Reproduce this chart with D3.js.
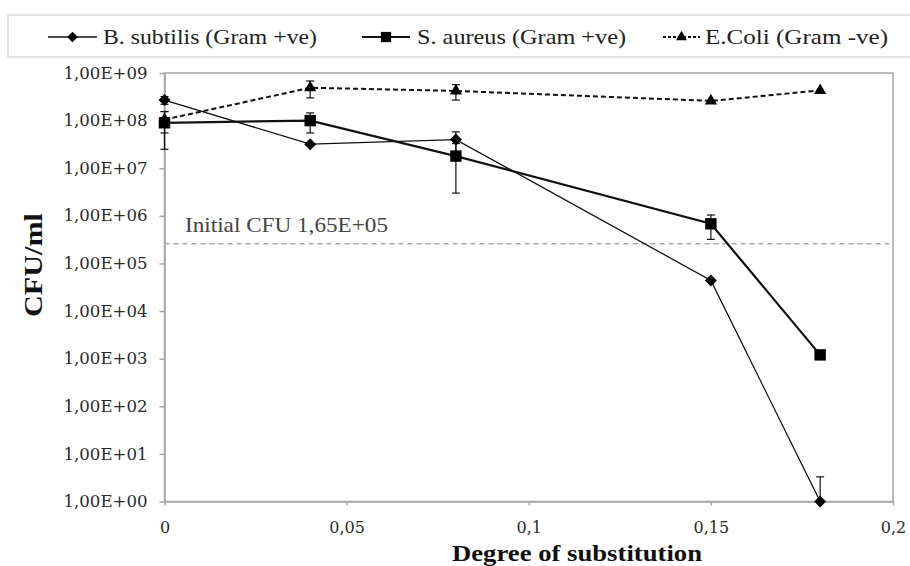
<!DOCTYPE html>
<html>
<head>
<meta charset="utf-8">
<script src="https://cdn.jsdelivr.net/npm/d3@7"></script>
<style>
html,body{margin:0;padding:0;background:#fff;}
svg{display:block;}
</style>
</head>
<body>
<svg id="chart" width="910" height="566"></svg>
<script>
// ---- data ----
const degree = [0, 0.04, 0.08, 0.15, 0.18];
const bSubtilis = [2.7e8, 3.2e7, 4.0e7, 4.4e4, 1];
const bSubtilisErr = [5e7, 0, 1.8e7, 0, 2.3];
const sAureus = [9.0e7, 1.0e8, 1.8e7, 6.8e5, 1.2e3];
const sAureusErr = [6.5e7, 4.5e7, 1.5e7, 3.6e5, 0];
const eColi = [1.05e8, 4.9e8, 4.2e8, 2.6e8, 4.3e8];
const eColiErr = [5e7, 1.9e8, 1.5e8, 0, 0];
const initialCFU = 2.6e5;
const initialLabel = "Initial CFU 1,65E+05";
const xTicks = [0, 0.05, 0.1, 0.15, 0.2];
const yTicks = [1, 10, 100, 1e3, 1e4, 1e5, 1e6, 1e7, 1e8, 1e9];
const seriesNames = ["B. subtilis (Gram +ve)", "S. aureus (Gram +ve)", "E.Coli (Gram -ve)"];

const svg = d3.select("#chart");
const x = d3.scaleLinear().domain([0, 0.2]).range([164.5, 893]);
const y = d3.scaleLog().domain([1, 1e9]).range([501.5, 73]);
const axisColor = "#a6a6a6";
const serif = "'DejaVu Serif', serif";
const serif2 = "'Liberation Serif', 'Times New Roman', serif";

// frame
svg.append("rect")
  .attr("x", x(0)).attr("y", y(1e9))
  .attr("width", x(0.2) - x(0)).attr("height", y(1) - y(1e9))
  .attr("fill", "none").attr("stroke", axisColor).attr("stroke-width", 1.5);

// y axis
const yAxis = svg.append("g").attr("transform", `translate(${x(0)},0)`)
  .call(d3.axisLeft(y).tickValues(yTicks).tickSize(5).tickSizeOuter(0).tickPadding(12)
    .tickFormat(d => "1,00E+" + String(Math.round(Math.log10(d))).padStart(2, "0")));
yAxis.select(".domain").attr("stroke", axisColor).attr("stroke-width", 1.5);
yAxis.selectAll(".tick line").attr("stroke", axisColor).attr("stroke-width", 1.5);
yAxis.selectAll(".tick text").attr("fill", "#2a2a2a").style("font-family", serif).style("font-size", "16px")
  .attr("textLength", 84).attr("lengthAdjust", "spacingAndGlyphs");

// x axis
const xAxis = svg.append("g").attr("transform", `translate(0,${y(1)})`)
  .call(d3.axisBottom(x).tickValues(xTicks).tickSize(4).tickSizeOuter(0).tickPadding(16)
    .tickFormat(d => String(d).replace(".", ",")));
xAxis.select(".domain").attr("stroke", axisColor).attr("stroke-width", 1.5);
xAxis.selectAll(".tick line").attr("stroke", axisColor).attr("stroke-width", 1.5);
xAxis.selectAll(".tick text").attr("fill", "#2a2a2a").style("font-family", serif).style("font-size", "16px");

// axis titles
svg.append("text")
  .attr("transform", `translate(42,265) rotate(-90)`)
  .attr("text-anchor", "middle")
  .attr("textLength", 104).attr("lengthAdjust", "spacingAndGlyphs")
  .style("font-family", serif2).style("font-weight", "bold").style("font-size", "25px")
  .attr("fill", "#111").text("CFU/ml");
svg.append("text")
  .attr("x", 577).attr("y", 561)
  .attr("text-anchor", "middle")
  .attr("textLength", 250).attr("lengthAdjust", "spacingAndGlyphs")
  .style("font-family", serif2).style("font-weight", "bold").style("font-size", "23px")
  .attr("fill", "#111").text("Degree of substitution");

// initial CFU reference line
svg.append("line")
  .attr("x1", x(0)).attr("x2", x(0.2))
  .attr("y1", y(initialCFU)).attr("y2", y(initialCFU))
  .attr("stroke", "#aaa").attr("stroke-width", 1.5).attr("stroke-dasharray", "5,4");
svg.append("text")
  .attr("x", 185).attr("y", 232)
  .attr("textLength", 203).attr("lengthAdjust", "spacingAndGlyphs")
  .style("font-family", serif2).style("font-size", "21px")
  .attr("fill", "#444").text(initialLabel);

// series
const series = [
  {vals: bSubtilis, err: bSubtilisErr, width: 1.3, dash: null, sym: d3.symbolSquare, size: 72, rot: 45},
  {vals: sAureus, err: sAureusErr, width: 2.2, dash: null, sym: d3.symbolSquare, size: 130, rot: 0},
  {vals: eColi, err: eColiErr, width: 2, dash: "5,3", sym: d3.symbolTriangle, size: 65, rot: 0}
];

const line = d3.line().x(d => x(d.x)).y(d => y(d.v));

// error bars
series.forEach(s => {
  const pts = degree.map((d, i) => ({x: d, v: s.vals[i], e: s.err[i]})).filter(p => p.e > 0);
  const g = svg.append("g");
  pts.forEach(p => {
    const hi = p.v + p.e;
    const lo = p.v - p.e;
    const yHi = y(hi);
    const yLo = lo > 0 ? y(Math.max(lo, 1)) : y(p.v);
    g.append("line").attr("x1", x(p.x)).attr("x2", x(p.x))
      .attr("y1", yHi).attr("y2", yLo).attr("stroke", "#111").attr("stroke-width", 1.2);
    g.append("line").attr("x1", x(p.x) - 4).attr("x2", x(p.x) + 4)
      .attr("y1", yHi).attr("y2", yHi).attr("stroke", "#111").attr("stroke-width", 1.2);
    if (lo > 0) {
      g.append("line").attr("x1", x(p.x) - 4).attr("x2", x(p.x) + 4)
        .attr("y1", yLo).attr("y2", yLo).attr("stroke", "#111").attr("stroke-width", 1.2);
    }
  });
});

// lines & markers
series.forEach(s => {
  const pts = degree.map((d, i) => ({x: d, v: s.vals[i]}));
  svg.append("path").datum(pts)
    .attr("d", line).attr("fill", "none")
    .attr("stroke", "#111").attr("stroke-width", s.width)
    .attr("stroke-dasharray", s.dash);
  svg.selectAll(null).data(pts).enter().append("path")
    .attr("transform", d => `translate(${x(d.x)},${y(d.v)}) rotate(${s.rot})`)
    .attr("d", d3.symbol().type(s.sym).size(s.size))
    .attr("fill", "#000");
});

// legend
svg.append("rect").attr("x", 8).attr("y", 15).attr("width", 908).attr("height", 42)
  .attr("fill", "#fff").attr("stroke", "#cfcfcf").attr("stroke-width", 1.2);
const legendItems = [
  {x1: 48, x2: 97, tx: 103, tw: 214},
  {x1: 362, x2: 410, tx: 417, tw: 209},
  {x1: 663, x2: 700, tx: 705, tw: 183}
];
legendItems.forEach((li, i) => {
  const s = series[i];
  const ly = 37;
  svg.append("line").attr("x1", li.x1).attr("x2", li.x2).attr("y1", ly).attr("y2", ly)
    .attr("stroke", "#111").attr("stroke-width", s.width).attr("stroke-dasharray", s.dash ? "3,2" : null);
  svg.append("path").attr("transform", `translate(${(li.x1 + li.x2) / 2},${ly}) rotate(${s.rot})`)
    .attr("d", d3.symbol().type(s.sym).size(s.size * 0.8)).attr("fill", "#000");
  svg.append("text").attr("x", li.tx).attr("y", ly + 7)
    .attr("textLength", li.tw).attr("lengthAdjust", "spacingAndGlyphs")
    .style("font-family", serif2).style("font-size", "21px")
    .attr("fill", "#222").text(seriesNames[i]);
});
</script>
</body>
</html>
